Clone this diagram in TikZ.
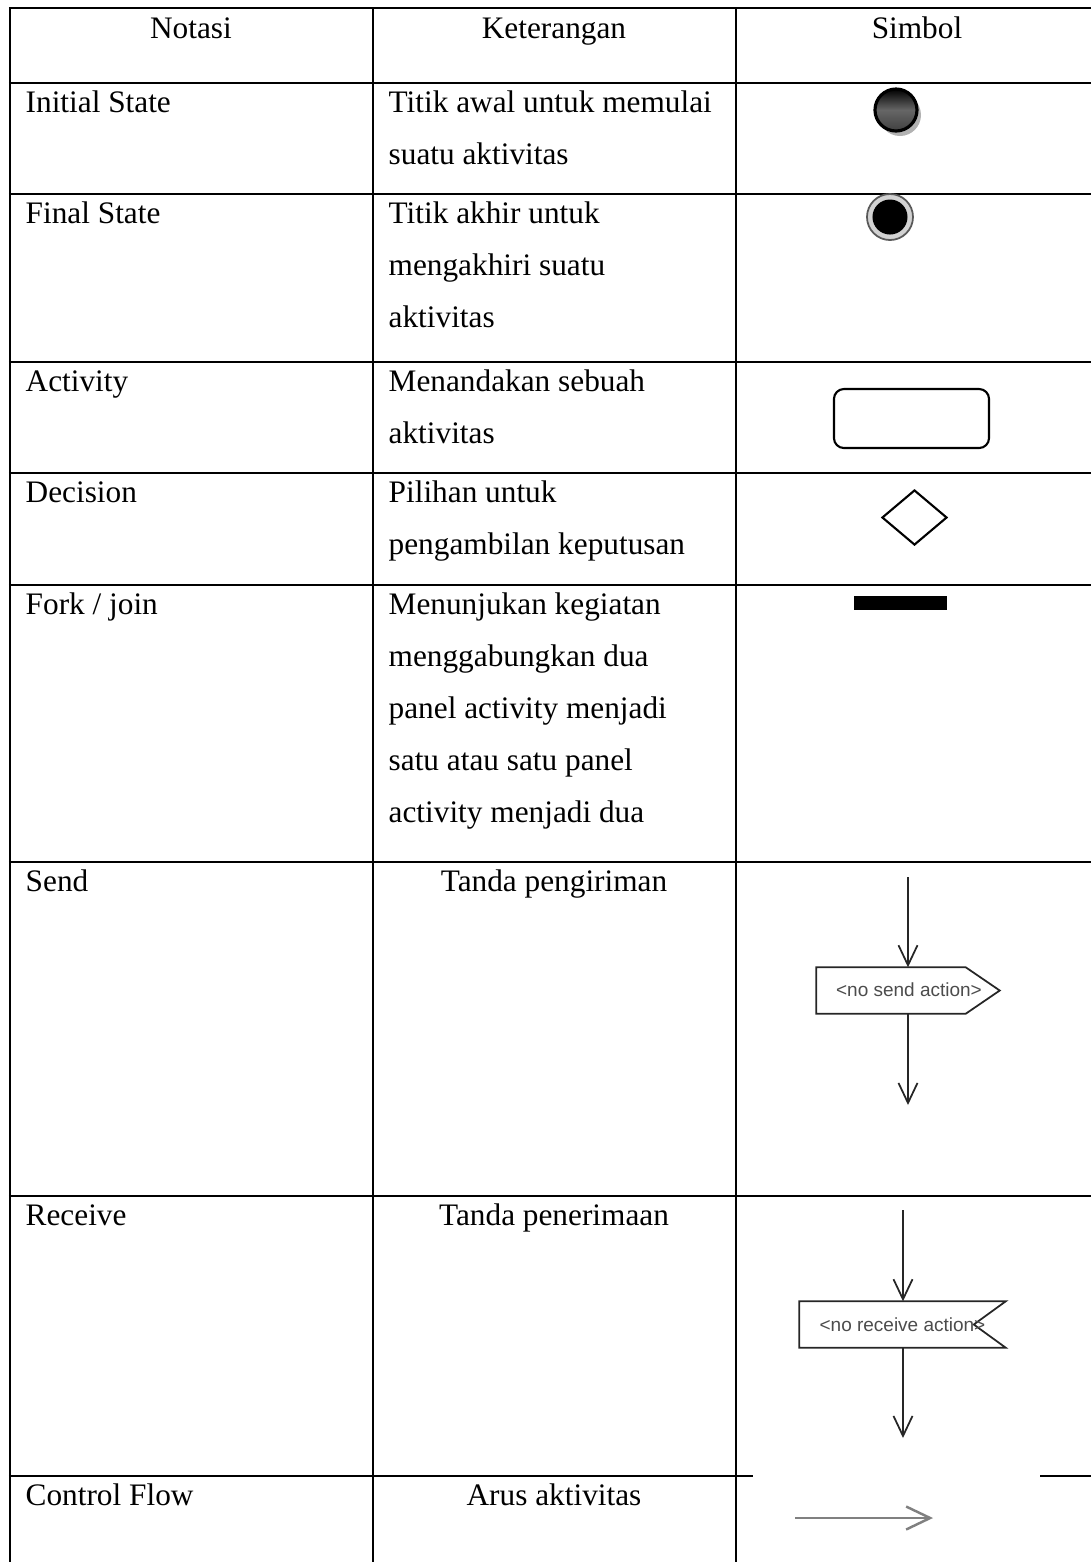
\documentclass[tikz,border=0pt]{standalone}
\usepackage{fontspec}
\setmainfont{Liberation Serif}
\newfontfamily\umlfont{Liberation Sans}
\usetikzlibrary{positioning, arrows.meta, calc, shapes.geometric}

\begin{document}
\begin{tikzpicture}[
    x=0.01cm, y=-0.01cm,
    grid/.style={black, line width=0.55pt},
    txt/.style={anchor=base west, inner sep=0pt, font=\fontsize{8.9pt}{10pt}\selectfont},
    ctxt/.style={txt, anchor=base},
    symline/.style={black!85, line width=0.5pt},
    flow/.style={symline, -{Straight Barb[length=0.2cm, width=0.19cm]}},
    actlabel/.style={inner sep=0pt, font=\umlfont\fontsize{5.4pt}{6pt}\selectfont, text=black!70}
]

% batas gambar
\useasboundingbox (0,0) rectangle (1091,1562);

% garis tabel
\foreach \y in {8,83,194,362,473,585,862,1196} \draw[grid] (9,\y) -- (1091,\y);
\draw[grid] (9,1476) -- (753,1476);
\draw[grid] (1040,1476) -- (1091,1476);
\foreach \x in {10,373,736} \draw[grid] (\x,8) -- (\x,1562);

% judul kolom
\node[ctxt] (hnotasi) at (191,38) {Notasi};
\node[ctxt] (hket) at (554,38) {Keterangan};
\node[ctxt] (hsimbol) at (917,38) {Simbol};

% kolom notasi
\foreach \t/\y [count=\i] in {Initial State/112, Final State/223, Activity/391, Decision/502,
    {Fork / join}/614, Send/891, Receive/1225, Control Flow/1505}
    \node[txt] (notasi\i) at (25,\y) {\t};

% kolom keterangan
\foreach \t [count=\i from 0] in {Titik awal untuk memulai, suatu aktivitas}
    \node[txt] (ketinit\i) at (388,{112+52*\i}) {\t};
\foreach \t [count=\i from 0] in {Titik akhir untuk, mengakhiri suatu, aktivitas}
    \node[txt] (ketfinal\i) at (388,{223+52*\i}) {\t};
\foreach \t [count=\i from 0] in {Menandakan sebuah, aktivitas}
    \node[txt] (ketact\i) at (388,{391+52*\i}) {\t};
\foreach \t [count=\i from 0] in {Pilihan untuk, pengambilan keputusan}
    \node[txt] (ketdec\i) at (388,{502+52*\i}) {\t};
\foreach \t [count=\i from 0] in {Menunjukan kegiatan, menggabungkan dua, panel activity menjadi,
    satu atau satu panel, activity menjadi dua}
    \node[txt] (ketfork\i) at (388,{614+52*\i}) {\t};
\node[ctxt] (ketsend) at (554,891) {Tanda pengiriman};
\node[ctxt] (ketrecv) at (554,1225) {Tanda penerimaan};
\node[ctxt] (ketflow) at (554,1505) {Arus aktivitas};

% initial state
\fill[gray!60] (900,115) circle (21);
\node[circle, minimum size=0.42cm, inner sep=0pt, draw=black, line width=0.9pt,
    top color=black, bottom color=black!75, middle color=black!60] (init) at (896,110) {};

% final state
\node[circle, minimum size=0.46cm, inner sep=0pt, draw=gray!70!black, fill=gray!35,
    line width=0.5pt] (final) at (890,217) {};
\node[circle, minimum size=0.35cm, inner sep=0pt, fill=black] (finaldot) at (final.center) {};

% activity
\node[draw, rounded corners=0.1cm, minimum width=1.55cm, minimum height=0.59cm,
    line width=0.6pt] (act) at (911.5,418.5) {};

% decision
\node[diamond, draw, minimum width=0.65cm, minimum height=0.55cm, inner sep=0pt,
    line width=0.6pt] (dec) at (914.5,517.5) {};

% fork / join
\node[fill=black, minimum width=0.93cm, minimum height=0.14cm, inner sep=0pt] (fork) at (900.5,603) {};

% send
\node[minimum width=1.48cm, minimum height=0.45cm, inner sep=0pt] (send) at (891,990.5) {};
\draw[symline] (send.north west) -- (send.north east) -- ($(send.east)+(34,0)$)
    -- (send.south east) -- (send.south west) -- cycle;
\node[actlabel] (sendtxt) at (909,990) {<no send action>};
\coordinate (sendin) at (908,877);
\coordinate (sendout) at (908,1105);
\draw[flow] (sendin) -- (sendin |- send.north);
\draw[flow] (sendin |- send.south) -- (sendout);

% receive
\node[minimum width=2.05cm, minimum height=0.45cm, inner sep=0pt] (recv) at (902.5,1324.5) {};
\draw[symline] (recv.north west) -- (recv.north east) -- ($(recv.east)+(-32,0)$)
    -- (recv.south east) -- (recv.south west) -- cycle;
\node[actlabel] (recvtxt) at (902.5,1325) {<no receive action>};
\coordinate (recvin) at (903,1210);
\coordinate (recvout) at (903,1438);
\draw[flow] (recvin) -- (recvin |- recv.north);
\draw[flow] (recvin |- recv.south) -- (recvout);

% control flow
\coordinate (cfstart) at (795,1518);
\coordinate (cfend) at (933,1518);
\draw[flow, gray, line width=0.7pt, -{Straight Barb[length=0.24cm, width=0.23cm]}] (cfstart) -- (cfend);

\end{tikzpicture}
\end{document}
